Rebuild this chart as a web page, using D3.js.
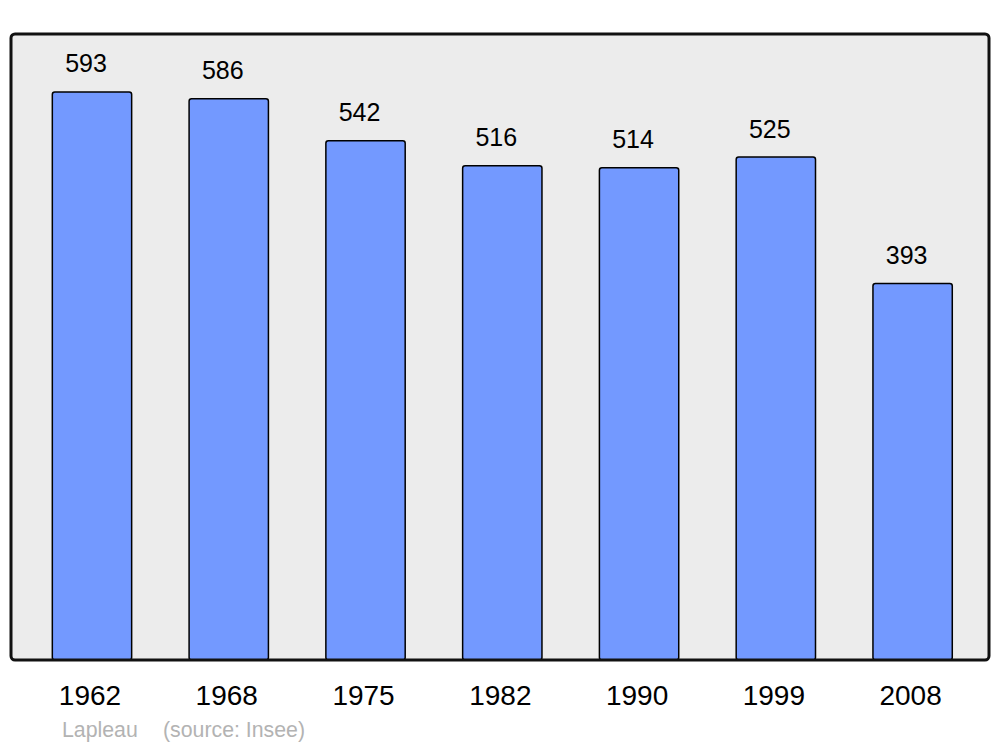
<!DOCTYPE html>
<html><head><meta charset="utf-8">
<script src="https://cdn.jsdelivr.net/npm/d3@7"></script>
<style>body{margin:0;background:#fff}svg{display:block}</style>
</head><body>
<svg id="c" width="1000" height="747"></svg>
<script>
const years = ["1962","1968","1975","1982","1990","1999","2008"];
const population = [593,586,542,516,514,525,393];
const footerName = "Lapleau";
const footerSource = "(source: Insee)";

const svg = d3.select("#c");
const frame = {x:11, y:34, w:978, h:626};
const font = "Liberation Sans, Arial, sans-serif";

svg.append("rect").attr("x",frame.x).attr("y",frame.y).attr("width",frame.w).attr("height",frame.h)
  .attr("rx",4).attr("fill","#ececec");

const x = d3.scaleBand().domain(years).range([23.6, 981]).paddingInner(0.42).paddingOuter(0.21);
const y = d3.scaleLinear().domain([0, 653.5]).range([frame.y+frame.h, frame.y]);

const g = svg.append("g");
g.selectAll("rect.bar").data(years).enter().append("rect").attr("class","bar")
  .attr("x", d=>x(d)).attr("width", x.bandwidth())
  .attr("y", (d,i)=>y(population[i])).attr("height",(d,i)=>y(0)-y(population[i]))
  .attr("rx",2.5).attr("fill","#7399ff").attr("stroke","#000").attr("stroke-width",1.5);

g.selectAll("text.val").data(years).enter().append("text").attr("class","val")
  .attr("x", d=>x(d)+x.bandwidth()/2 - 6).attr("y",(d,i)=>y(population[i])-19.5)
  .attr("text-anchor","middle").attr("font-family",font).attr("font-size",25).attr("fill","#000")
  .text((d,i)=>population[i]);

// frame border on top
svg.append("rect").attr("x",frame.x).attr("y",frame.y).attr("width",frame.w).attr("height",frame.h)
  .attr("rx",4).attr("fill","none").attr("stroke","#111").attr("stroke-width",3);

const xAxis = d3.axisBottom(x).tickSize(0).tickPadding(0);
const ax = svg.append("g").attr("transform",`translate(-2,${705})`).call(xAxis);
ax.select(".domain").remove();
ax.selectAll("text").attr("font-family",font).attr("font-size",28).attr("fill","#000").attr("dy",0);

svg.append("text").attr("x",62).attr("y",737).attr("font-family",font).attr("font-size",21.3)
  .attr("fill","#b3b3b3").text(footerName);
svg.append("text").attr("x",163).attr("y",737).attr("font-family",font).attr("font-size",21.3)
  .attr("fill","#b3b3b3").text(footerSource);
</script>
</body></html>
